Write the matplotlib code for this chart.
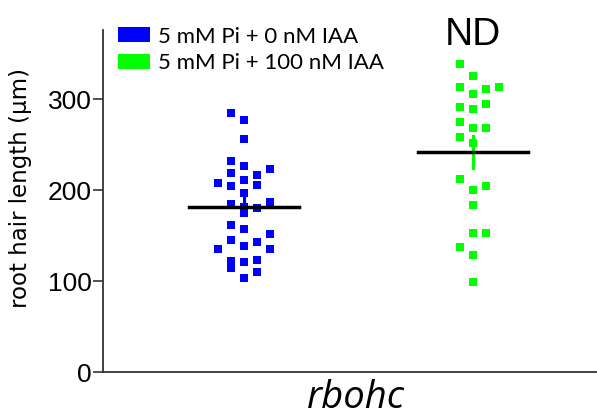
import numpy as np
import matplotlib.pyplot as plt
from matplotlib.patches import Patch

# root hair length (um)
pi_0iaa = [285, 277.5, 256, 232, 226.5, 223, 219, 217, 208.5, 205, 211.5, 206,
           197, 187.5, 184.7, 182, 181, 175, 162, 157.5, 151.6, 145.7, 143, 139,
           135, 135, 122, 121.5, 123, 114, 110, 104]
pi_0iaa_col = [-1, 0, 0, -1, 0, 2, -1, 1, -2, -1, 0, 1,
               0, 2, -1, 0, 1, 0, -1, 0, 2, -1, 1, 0,
               -2, 2, -1, 0, 1, -1, 1, 0]
pi_100iaa = [339, 326, 314, 312, 314, 306, 291.5, 289.6, 294.8, 275, 269, 269,
             258.5, 252.5, 212.5, 200.4, 205, 184, 152.7, 152.7, 138, 129, 99.5]
pi_100iaa_col = [-1, 0, -1, 1, 2, 0, -1, 0, 1, -1, 0, 1,
                 -1, 0, -1, 0, 1, 0, 0, 1, -1, 0, 0]
means = [182, 242.6]
sems = [9.5, 17.7]
labels = ["5 mM Pi + 0 nM IAA", "5 mM Pi + 100 nM IAA"]
colors = ["#0000ff", "#00ff00"]

fig = plt.figure(figsize=(5.97, 4.15), dpi=100)
ax = fig.add_axes([0.1725, 0.1036, 0.8275, 0.8241])

step = 0.0568
groups = [(pi_0iaa, pi_0iaa_col), (pi_100iaa, pi_100iaa_col)]
for i, (vals, cols) in enumerate(groups):
    xs = i + step * np.array(cols)
    ax.scatter(xs, vals, marker='s', s=34, color=colors[i], linewidths=0, zorder=2)
    m, e = means[i], sems[i]
    ax.plot([i, i], [m - e, m + e], color=colors[i], lw=2.2, zorder=3)
    ax.plot([i - 0.24, i + 0.24], [m, m], color='black', lw=2.5, zorder=4)

ax.set_xlim(-0.6157, 1.5415)
ax.set_ylim(0, 376.5)
ax.set_yticks([0, 100, 200, 300])
ax.set_xticks([])
for s in ['top', 'right']:
    ax.spines[s].set_visible(False)
for s in ['left', 'bottom']:
    ax.spines[s].set_linewidth(1.3)
    ax.spines[s].set_color('#333333')
ax.tick_params(axis='y', length=7, width=1.2, color='#333333', labelsize=19, pad=1)
for t in ax.get_yticklabels():
    t.set_family('Liberation Sans')
ax.set_ylabel("root hair length (\u03bcm)", fontsize=16.5, family='DejaVu Sans')
ax.yaxis.set_label_coords(-0.144, 0.537)

ax.text(1.0, 0.956, "ND", transform=ax.get_xaxis_transform(), ha='center', va='baseline',
        fontsize=28, family='Liberation Sans')
fig.text(0.596, 0.018, "rbohc", ha='center', va='baseline', fontsize=27.5,
         style='italic', family='Open Sans')

handles = [Patch(facecolor=c, edgecolor='none') for c in colors]
ax.legend(handles, labels, loc='upper left', bbox_to_anchor=(0.03, 1.01), frameon=False,
          prop={'family': 'Lato', 'size': 16}, handlelength=1.44, handleheight=0.675,
          handletextpad=0.36, labelspacing=0.3, borderaxespad=0.0, borderpad=0.0)

fig.savefig("out.png", dpi=100)
